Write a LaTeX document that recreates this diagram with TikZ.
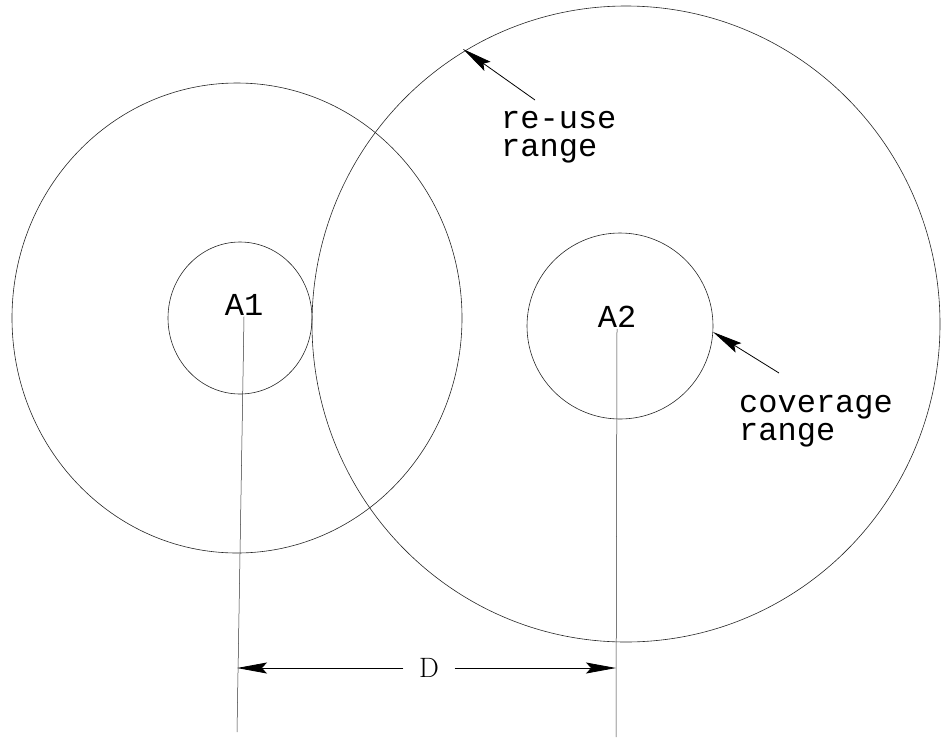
\documentclass[tikz,border=0pt]{standalone}
\usepackage{fontspec}
\setmonofont{Liberation Mono}
\usetikzlibrary{arrows.meta,positioning}

\begin{document}
\begin{tikzpicture}[x=1pt, y=-1pt,
  ring/.style={draw=black!85, line width=0.6pt},
  axisline/.style={draw=black!80, line width=0.5pt},
  pointer/.style={-{Stealth[length=30pt, width=11pt, inset=5pt]}, line width=0.8pt},
  site/.style={font=\ttfamily\fontsize{32}{28}\selectfont, inner sep=1pt},
  lbl/.style={font=\ttfamily\fontsize{32}{28}\selectfont, inner sep=0pt, align=left, anchor=north west},
  dimlabel/.style={font=\fontsize{28}{30}\selectfont, inner sep=0pt, minimum width=51pt},
]
\useasboundingbox (0,0) rectangle (942,737);
% pixel coordinates of the scan, y pointing down
% re-use and coverage range of site A1
\draw[ring] (237,318) ellipse [x radius=225, y radius=235];
\draw[ring] (240,318) ellipse [x radius=72, y radius=76];
% re-use and coverage range of site A2
\draw[ring] (626,324) ellipse [x radius=314, y radius=318];
\draw[ring] (620,326) circle [radius=93];

\node[site] (A1) at (244,305) {A1};
\node[site] (A2) at (617,317) {A2};
\coordinate (a1bot) at (237,732);
\coordinate (a2bot) at (616,737);
\draw[axisline] (A1.south) -- (a1bot);
\draw[axisline] (A2.south) -- (a2bot);

% distance between the sites
\node[dimlabel] (D) at (429,668) {D};
\draw[pointer] (D.west) -- (D.west -| a1bot);
\draw[pointer] (D.east) -- (D.east -| a2bot);

% range labels
\node[lbl] (reuse) at (501,111) {re-use\\range};
\node[lbl] (cover) at (739,395) {coverage\\range};
\coordinate (reusetip) at (463,49);
\coordinate (covertip) at (713,332);
\draw[pointer] ([shift={(34,-11)}]reuse.north west) -- (reusetip);
\draw[pointer] ([shift={(40,-22)}]cover.north west) -- (covertip);
\end{tikzpicture}
\end{document}
